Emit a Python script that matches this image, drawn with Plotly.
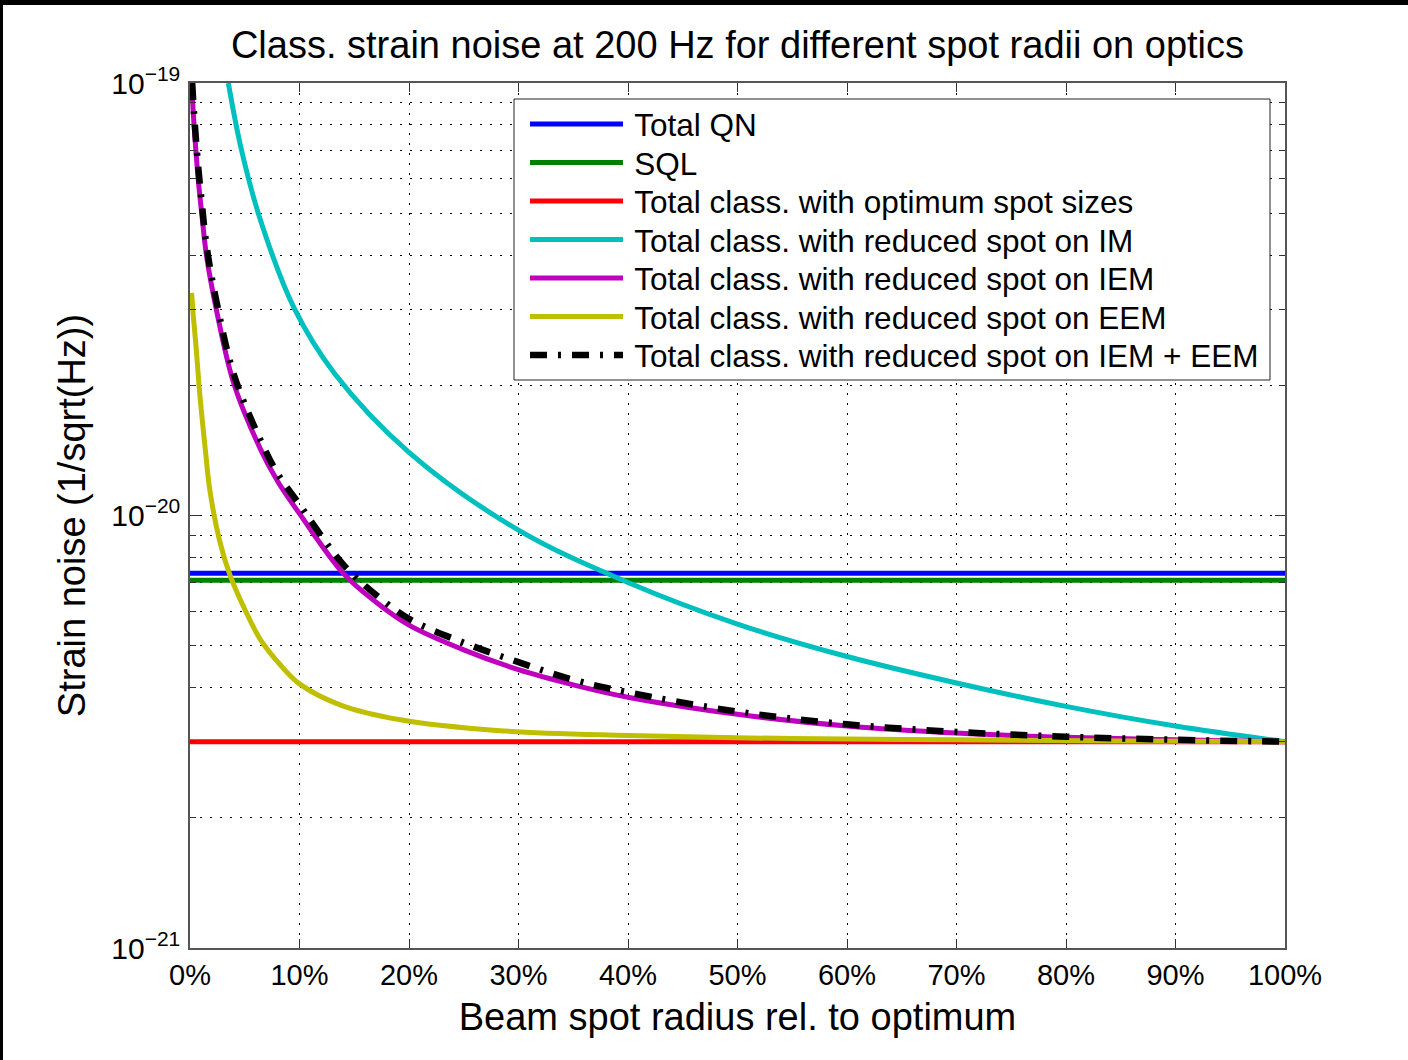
import plotly.graph_objects as go

# ---------------- data ----------------
x_flat = [0, 100]
total_qn = [7.35e-21, 7.35e-21]
sql = [7.08e-21, 7.08e-21]
total_opt = [3.0e-21, 3.0e-21]

# reduced spot on IM (cyan)
x_im = [3.5, 4.7, 6.4, 9.5, 13.2, 20, 30, 40, 50, 60, 70, 80, 90, 100]
y_im = [100e-21, 70e-21, 48.5e-21, 30.2e-21, 21.3e-21, 14.0e-21, 9.25e-21, 7.0e-21, 5.61e-21, 4.72e-21,
        4.10e-21, 3.62e-21, 3.26e-21, 3.0e-21]

# reduced spot on IEM (magenta)
x_iem = [0.15, 0.37, 0.75, 1.07, 1.5, 2.4, 4.0, 6.4, 8, 10, 14, 17, 20, 25, 30, 35, 40, 50, 60, 70,
         80, 90, 100]
y_iem = [100e-21, 80e-21, 60e-21, 50e-21, 40e-21, 30e-21, 20.2e-21, 14.3e-21, 12.0e-21, 10.1e-21,
         7.35e-21, 6.3e-21, 5.58e-21, 4.89e-21, 4.40e-21, 4.06e-21, 3.80e-21, 3.47e-21, 3.26e-21,
         3.14e-21, 3.07e-21, 3.03e-21, 3.0e-21]

# reduced spot on EEM (yellow)
x_eem = [0.15, 0.3, 0.55, 0.9, 1.4, 1.8, 2.7, 3.65, 5, 6.4, 8.2, 10, 13.7, 19.2, 28.3, 40, 55, 70, 85, 100]
y_eem = [32.7e-21, 29e-21, 24.6e-21, 19e-21, 14.2e-21, 11.5e-21, 8.75e-21, 7.28e-21, 6.07e-21, 5.18e-21,
         4.53e-21, 4.08e-21, 3.65e-21, 3.37e-21, 3.18e-21, 3.10e-21, 3.05e-21, 3.03e-21, 3.01e-21, 3.0e-21]

# reduced spot on IEM + EEM (black dash-dot)
x_both = [0.2, 0.37, 0.75, 1.07, 1.5, 2.4, 4, 6.4, 8, 10, 14, 17, 20, 25, 30, 35, 40, 50, 60, 70, 80, 90, 100]
y_both = [100e-21, 85e-21, 64e-21, 53e-21, 42.2e-21, 31.4e-21, 21.2e-21, 15.0e-21, 12.5e-21, 10.6e-21,
          7.7e-21, 6.55e-21, 5.77e-21, 5.08e-21, 4.58e-21, 4.17e-21, 3.9e-21, 3.52e-21, 3.29e-21,
          3.16e-21, 3.08e-21, 3.03e-21, 3.0e-21]

x_ticks = list(range(0, 101, 10))
x_tick_text = [f"{v}%" for v in x_ticks]
y_major = [1e-21, 1e-20, 1e-19]
y_major_text = ["10<sup>\u221221</sup>", "10<sup>\u221220</sup>", "10<sup>\u221219</sup>"]
y_minor = [m * 10.0 ** e for e in (-21, -20) for m in range(2, 10)]

names = ["Total QN", "SQL", "Total class. with optimum spot sizes",
         "Total class. with reduced spot on IM", "Total class. with reduced spot on IEM",
         "Total class. with reduced spot on EEM", "Total class. with reduced spot on IEM + EEM"]

# ---------------- figure ----------------
FONT = "Liberation Sans, Arial, sans-serif"
W, H = 1408, 1060
ML, MR, MT, MB = 190, 123, 83, 112
PW, PH = W - ML - MR, H - MT - MB


def px_x(px):
    return (px - ML) / PW


def px_y(py):
    return 1 - (py - MT) / PH


legend_ids = ["legend", "legend2", "legend3", "legend4", "legend5", "legend6", "legend7"]
legend_rows = [124, 162.5, 201, 239.5, 278, 316.5, 355]

series = [
    (x_flat, total_qn, dict(color="#0000FF", width=5)),
    (x_flat, sql, dict(color="#008000", width=5)),
    (x_flat, total_opt, dict(color="#FF0000", width=5)),
    (x_im, y_im, dict(color="#00BFBF", width=5, shape="spline", smoothing=1.0)),
    (x_iem, y_iem, dict(color="#BF00BF", width=5, shape="spline", smoothing=1.0)),
    (x_eem, y_eem, dict(color="#BFBF00", width=5, shape="spline", smoothing=1.0)),
    (x_both, y_both, dict(color="#000000", width=6.5, dash="17px,11px,3px,11px",
                          shape="spline", smoothing=1.0)),
]

fig = go.Figure()
for (xs, ys, ln), nm, lid in zip(series, names, legend_ids):
    fig.add_trace(go.Scatter(x=xs, y=ys, mode="lines", name="\u2009" + nm, line=ln, legend=lid))

grid_dash = "2px,8px"
layout = dict(
    width=W, height=H,
    margin=dict(l=ML, r=MR, t=MT, b=MB, autoexpand=False),
    paper_bgcolor="white", plot_bgcolor="white",
    font=dict(family=FONT, color="black", size=29),
    showlegend=True,
    title=dict(text="Class. strain noise at 200 Hz for different spot radii on optics",
               x=0.5, xref="paper", xanchor="center",
               y=1 - 45 / H, yref="container", yanchor="middle",
               font=dict(size=38, family=FONT, color="black")),
    xaxis=dict(range=[0, 100], tickvals=x_ticks, ticktext=x_tick_text,
               ticks="inside", ticklen=9, tickcolor="#333", tickwidth=1,
               showline=True, linecolor="#555", linewidth=1.5, mirror="allticks",
               showgrid=True, gridcolor="black", gridwidth=1, griddash=grid_dash,
               zeroline=False, automargin=False,
               tickfont=dict(size=29), ticklabelstandoff=0,
               title=dict(text="Beam spot radius rel. to optimum", font=dict(size=38), standoff=14)),
    yaxis=dict(type="log", range=[-21, -19], tickvals=y_major, ticktext=y_major_text,
               ticks="inside", ticklen=10, tickcolor="#333", tickwidth=1,
               showline=True, linecolor="#555", linewidth=1.5, mirror="allticks",
               showgrid=True, gridcolor="black", gridwidth=1, griddash=grid_dash,
               zeroline=False, automargin=False,
               tickfont=dict(size=30), ticklabelstandoff=2,
               minor=dict(tickvals=y_minor, ticks="inside", ticklen=6, tickcolor="#333",
                          showgrid=True, gridcolor="black", gridwidth=1, griddash=grid_dash),
               title=dict(text="Strain noise (1/sqrt(Hz))", font=dict(size=38), standoff=14)),
)
for lid, row in zip(legend_ids, legend_rows):
    layout[lid] = dict(x=px_x(525), xanchor="left", y=px_y(row), yanchor="middle",
                       bgcolor="rgba(0,0,0,0)", borderwidth=0,
                       font=dict(size=31.5, family=FONT, color="black"),
                       itemwidth=93)
fig.update_layout(**layout)

# legend frame (white box with thin border)
fig.add_shape(type="rect", xref="paper", yref="paper",
              x0=px_x(514), x1=px_x(1270), y0=px_y(380), y1=px_y(99),
              fillcolor="white", line=dict(color="#222", width=1), layer="above")

# black frame strips of the original picture (top and left edges)
fig.add_shape(type="rect", xref="paper", yref="paper",
              x0=px_x(0), x1=px_x(W), y0=px_y(5), y1=px_y(0),
              fillcolor="black", line=dict(width=0), layer="above")
fig.add_shape(type="rect", xref="paper", yref="paper",
              x0=px_x(0), x1=px_x(3), y0=px_y(H), y1=px_y(0),
              fillcolor="black", line=dict(width=0), layer="above")

fig.write_html("out.html", config={"displayModeBar": False},
               post_script="document.body.style.margin='0px';document.body.style.overflow='hidden';")
